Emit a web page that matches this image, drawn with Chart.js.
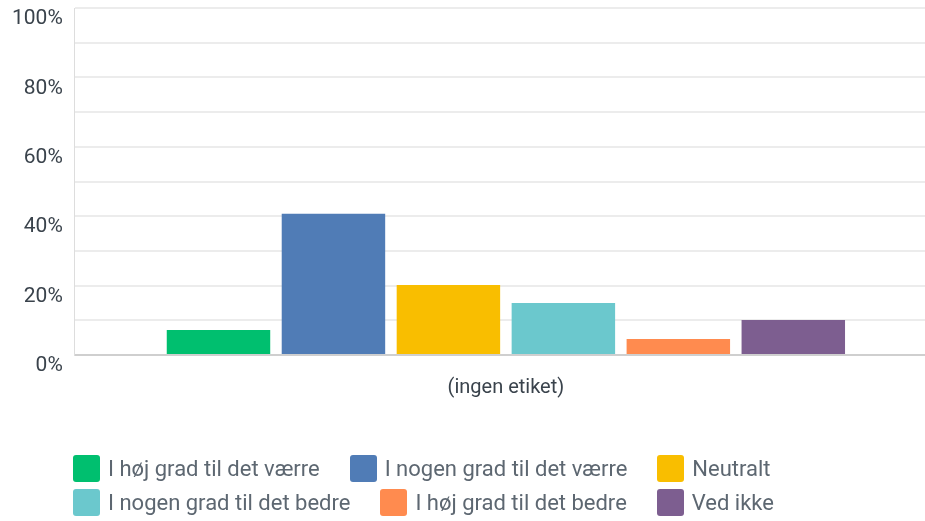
<!DOCTYPE html>
<html><head><meta charset="utf-8">
<script src="https://cdn.jsdelivr.net/npm/chart.js@4/dist/chart.umd.min.js"></script>
<style>
html,body{margin:0;padding:0;background:#fff;}
#wrap{position:relative;width:925px;height:521px;overflow:hidden;}
#c{position:absolute;left:0;top:0;}
#legend{position:absolute;left:73px;top:455px;width:780px;display:flex;flex-wrap:wrap;font-family:Roboto,sans-serif;font-size:22px;color:#5d6771;}
.li{display:flex;align-items:center;margin-right:30px;height:27px;margin-bottom:7px;white-space:nowrap;}
.sw{width:27px;height:27px;border-radius:3px;margin-right:8px;flex:none;}
</style></head>
<body><div id="wrap"><canvas id="c" width="937" height="521"></canvas><div id="legend"></div></div>
<script>
const categories = ['(ingen etiket)'];
const seriesNames = ['I høj grad til det værre','I nogen grad til det værre','Neutralt','I nogen grad til det bedre','I høj grad til det bedre','Ved ikke'];
const seriesValues = [[7.2],[40.7],[20.2],[15.0],[4.6],[10.1]];
const seriesColors = ['#00bf6f','#507cb6','#f9be00','#6bc8cd','#ff8b4f','#7d5e90'];
const yTickLabelsEvery = 20;

const chart = new Chart(document.getElementById('c'), {
  type: 'bar',
  data: {
    labels: categories,
    datasets: seriesNames.map((n, i) => ({
      label: n, data: seriesValues[i], backgroundColor: seriesColors[i],
      categoryPercentage: 0.8, barPercentage: 0.9
    }))
  },
  options: {
    responsive: false, animation: false, devicePixelRatio: 1,
    layout: { padding: { left: 0, right: 0, top: 8, bottom: 108 } },
    plugins: { legend: { display: false }, tooltip: { enabled: false } },
    scales: {
      x: {
        grid: { display: false },
        border: { display: true, color: '#cfcfcf', width: 2 },
        ticks: { color: '#3a434c', font: { family: 'Roboto', size: 20 }, padding: 13 }
      },
      y: {
        min: 0, max: 100,
        afterFit: s => { s.paddingTop = 0; s.paddingBottom = 0; },
        grid: { color: '#ececec', lineWidth: 2, drawTicks: false },
        border: { display: true, color: '#dddddd', width: 1 },
        ticks: {
          stepSize: 10, padding: 12, labelOffset: 11,
          color: '#3a434c', font: { family: 'Roboto', size: 21 },
          callback: v => (v % yTickLabelsEvery === 0 ? v + '%' : '')
        }
      }
    }
  }
});

const lg = document.getElementById('legend');
chart.data.datasets.forEach(ds => {
  const it = document.createElement('div'); it.className = 'li';
  const sw = document.createElement('span'); sw.className = 'sw'; sw.style.background = ds.backgroundColor;
  const tx = document.createElement('span'); tx.textContent = ds.label;
  it.appendChild(sw); it.appendChild(tx); lg.appendChild(it);
});
</script></body></html>
